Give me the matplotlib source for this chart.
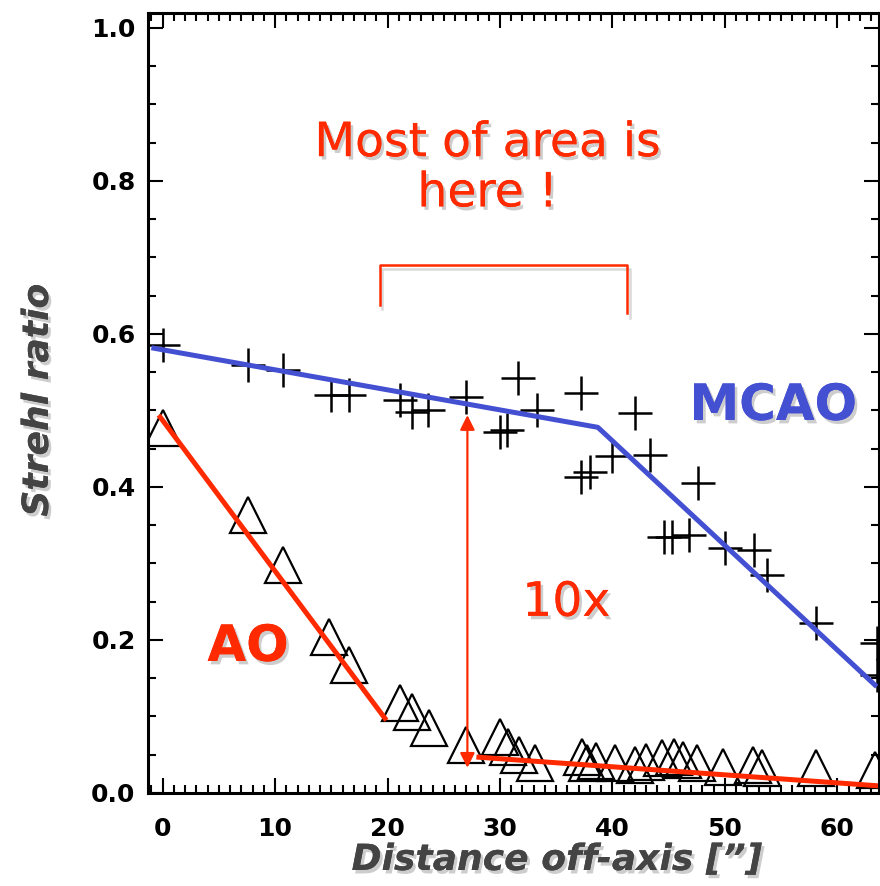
import matplotlib
matplotlib.use("Agg")
import matplotlib.pyplot as plt
import matplotlib.patheffects as pe
from matplotlib.ticker import MultipleLocator, FormatStrFormatter

# Datos (distancia en arcsec, razon de Strehl)
x_mcao = [0, 7.6, 10.7, 15.0, 16.6, 21.1, 22.2, 23.6, 27.0, 30.0, 30.6, 31.6, 33.3,
          37.2, 37.2, 38.0, 40.0, 42.0, 43.3, 44.6, 45.3, 46.8, 47.6, 50.0, 52.6,
          53.7, 58.1, 63.5, 63.5]
y_mcao = [0.585, 0.560, 0.553, 0.520, 0.520, 0.514, 0.498, 0.500, 0.518, 0.472, 0.474,
          0.543, 0.500, 0.523, 0.413, 0.420, 0.440, 0.497, 0.442, 0.335, 0.335, 0.337,
          0.405, 0.320, 0.318, 0.285, 0.222, 0.196, 0.154]

x_ao = [0, 7.6, 10.7, 14.8, 16.6, 21.1, 22.2, 23.7, 27.0, 30.0, 30.7, 31.7, 33.1,
        37.3, 37.7, 38.5, 40.2, 42.0, 43.0, 44.4, 45.5, 46.3, 47.5, 49.8, 52.5,
        53.3, 58.1, 63.3]
y_ao = [0.477, 0.363, 0.298, 0.204, 0.167, 0.118, 0.106, 0.085, 0.063, 0.073, 0.060,
        0.050, 0.039, 0.047, 0.039, 0.042, 0.039, 0.036, 0.040, 0.046, 0.047, 0.043,
        0.039, 0.034, 0.036, 0.033, 0.033, 0.030]

# Ajustes dibujados a mano sobre la figura
x_fit_mcao = [-1.0, 38.7, 63.5]
y_fit_mcao = [0.582, 0.478, 0.139]
x_fit_ao1 = [-0.35, 19.9]
y_fit_ao1 = [0.494, 0.095]
x_fit_ao2 = [27.9, 64.0]
y_fit_ao2 = [0.047, 0.009]

# Flecha "10x" y corchete
x_flecha = 27.1
y_flecha = (0.033, 0.494)
x_corchete = [19.3, 19.3, 41.3, 41.3]
y_corchete = [0.638, 0.690, 0.690, 0.627]

ROJO = "#ff2a00"
AZUL = "#4450d2"
GRIS = "#444444"

sombra = [pe.withSimplePatchShadow(offset=(2, -2.5), shadow_rgbFace="0.3", alpha=0.28),
          pe.Normal()]

fig = plt.figure(figsize=(8.8, 8.86), dpi=100)
ax = fig.add_axes([148 / 880, 93 / 886, 731 / 880, 780 / 886])

ax.plot(x_mcao, y_mcao, linestyle="none", marker="+", ms=24, mew=1.8, color="black")
ax.plot(x_ao, y_ao, linestyle="none", marker="^", ms=26, mew=1.6,
        markerfacecolor="none", markeredgecolor="black")

ax.plot(x_fit_mcao, y_fit_mcao, color=AZUL, lw=3.6, solid_capstyle="butt")
ax.plot(x_fit_ao1, y_fit_ao1, color=ROJO, lw=3.6, solid_capstyle="butt")
ax.plot(x_fit_ao2, y_fit_ao2, color=ROJO, lw=3.6, solid_capstyle="butt")

ax.annotate("", xy=(x_flecha, y_flecha[1]), xytext=(x_flecha, y_flecha[0]),
            arrowprops=dict(arrowstyle="<|-|>", color=ROJO, lw=1.6,
                            mutation_scale=22, shrinkA=0, shrinkB=0))
ax.plot(x_corchete, y_corchete, color=ROJO, lw=1.8,
        path_effects=[pe.SimpleLineShadow(offset=(2, -3), alpha=0.15), pe.Normal()])

# Textos
ax.text(28.9, 0.816, "Most of area is\nhere !", color=ROJO, fontsize=34,
        ha="center", va="center", linespacing=1.15, path_effects=sombra)
ax.text(35.9, 0.248, "10x", color=ROJO, fontsize=34, ha="center", va="center",
        path_effects=sombra)
ax.text(7.6, 0.191, "AO", color=ROJO, fontsize=36, fontweight="bold",
        ha="center", va="center", path_effects=sombra)
ax.text(54.3, 0.506, "MCAO", color=AZUL, fontsize=36, fontweight="bold",
        ha="center", va="center", path_effects=sombra)

fig.text(557 / 880, 1 - 860 / 886, "Distance off-axis [\u201d]", color=GRIS,
         fontsize=26, fontweight="bold", fontstyle="italic",
         ha="center", va="center", path_effects=sombra)
fig.text(38 / 880, 1 - 400 / 886, "Strehl ratio", color=GRIS, fontsize=26,
         fontweight="bold", fontstyle="italic", rotation=90,
         ha="center", va="center", path_effects=sombra)

# Ejes estilo IDL
ax.set_xlim(-1.3, 63.7)
ax.set_ylim(0, 1.0196)
ax.xaxis.set_major_locator(MultipleLocator(10))
ax.xaxis.set_minor_locator(MultipleLocator(1))
ax.yaxis.set_major_locator(MultipleLocator(0.2))
ax.yaxis.set_minor_locator(MultipleLocator(0.05))
ax.yaxis.set_major_formatter(FormatStrFormatter("%.1f"))
ax.set_yticks([0.0, 0.2, 0.4, 0.6, 0.8, 1.0])

ax.tick_params(which="both", direction="in", top=True, right=True, width=1.5)
ax.tick_params(which="major", length=11)
ax.tick_params(which="minor", length=6)
ax.tick_params(axis="x", which="major", pad=17)
ax.tick_params(axis="y", which="major", pad=9)
for lab in ax.get_xticklabels() + ax.get_yticklabels():
    lab.set_fontsize(18)
    lab.set_fontweight("bold")
for sp in ax.spines.values():
    sp.set_linewidth(2.2)

fig.savefig("out.png", dpi=100)
